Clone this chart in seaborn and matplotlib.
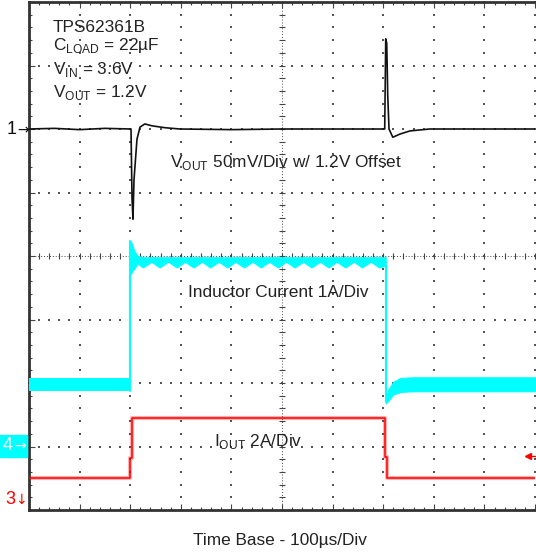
import numpy as np
import pandas as pd
import seaborn as sns
import matplotlib.pyplot as plt
from matplotlib.patches import Rectangle

sns.set_style("white")
plt.rcParams['font.family'] = ['Liberation Sans', 'DejaVu Sans']
plt.rcParams['mathtext.fontset'] = 'custom'
plt.rcParams['mathtext.rm'] = 'Liberation Sans'

# scope traces, x in divisions (100us/div), y in divisions from screen centre
# CH1 - Vout (black)
vout_t = [0, 0.5, 1.0, 1.5, 2.0, 2.016, 2.036, 2.055, 2.075, 2.134, 2.194, 2.29, 2.43,
          2.69, 2.98, 4.0, 5.0, 6.0, 7.03, 7.05, 7.07, 7.09, 7.115, 7.19, 7.33, 7.53,
          7.92, 9.0, 10.0]
vout_y = [2.0, 2.01, 1.99, 2.01, 2.0, 2.0, 0.9, 0.58, 1.2, 1.84, 2.03, 2.08, 2.05,
          2.02, 2.0, 1.99, 2.0, 2.0, 2.0, 3.42, 3.35, 2.52, 2.0, 1.87, 1.92, 1.97,
          2.0, 2.0, 2.0]

# CH4 - inductor current (cyan band: top / bottom envelope)
il_lo1_t = [0, 2.0]
il_lo1_top = [-1.92, -1.92]
il_lo1_bot = [-2.13, -2.13]
il_edge_y = [-2.13, 0.24]
il_hi_t = [2.0, 2.03, 2.08, 2.15, 2.25, 2.42, 2.58, 2.75, 2.92, 3.08, 3.25, 3.42, 3.58,
           3.75, 3.92, 4.08, 4.25, 4.42, 4.58, 4.75, 4.92, 5.08, 5.25, 5.42, 5.58, 5.75,
           5.92, 6.08, 6.25, 6.42, 6.58, 6.75, 6.92, 7.05]
il_hi_top = [0.24, 0.2, 0.08, 0.0, -0.02, -0.02, -0.02, -0.02, -0.02, -0.02, -0.02,
             -0.02, -0.02, -0.02, -0.02, -0.02, -0.02, -0.02, -0.02, -0.02, -0.02,
             -0.02, -0.02, -0.02, -0.02, -0.02, -0.02, -0.02, -0.02, -0.02, -0.02,
             -0.02, -0.02, -0.02]
il_hi_bot = [-0.3, -0.25, -0.2, -0.12, -0.18, -0.09, -0.18, -0.09, -0.18, -0.09, -0.18,
             -0.09, -0.18, -0.09, -0.18, -0.09, -0.18, -0.09, -0.18, -0.09, -0.18,
             -0.09, -0.18, -0.09, -0.18, -0.09, -0.18, -0.09, -0.18, -0.09, -0.18,
             -0.09, -0.18, -0.15]
il_fall_y = [-0.15, -2.3]
il_lo2_t = [7.055, 7.1, 7.2, 7.35, 7.6, 10.0]
il_lo2_top = [-2.25, -2.1, -1.98, -1.92, -1.91, -1.91]
il_lo2_bot = [-2.32, -2.28, -2.18, -2.14, -2.13, -2.13]

# CH3 - Iout (red)
iout_t = [0, 1.996, 1.996, 2.035, 2.035, 7.03, 7.03, 7.08, 7.08, 10.0]
iout_y = [-3.5, -3.5, -3.18, -3.18, -2.55, -2.55, -3.17, -3.17, -3.5, -3.5]

trig_level = -3.15

fig = plt.figure(figsize=(5.36, 5.56), dpi=100)
ax = fig.add_axes([29 / 536, 1 - 510 / 556, 506 / 536, 508 / 556])
ax.set_xlim(0, 10)
ax.set_ylim(-4, 4)

# graticule dots
dot = dict(color='#555555', s=1.3, marker='s', linewidths=0, clip_on=False, zorder=1)
yy = np.arange(-4, 4.01, 0.2)
xx = np.arange(0, 10.01, 0.2)
for gx in [1, 2, 3, 4, 6, 7, 8, 9, 10]:
    ax.scatter(np.full_like(yy, gx), yy, **dot)
for gy in [-3, -2, -1, 1, 2, 3]:
    ax.scatter(xx, np.full_like(xx, gy), **dot)
# centre crosshair
ax.axhline(0, color='#444444', lw=0.7, ls=(0, (1, 2)), zorder=1)
ax.axvline(5, color='#444444', lw=0.7, ls=(0, (1, 2)), zorder=1)
ax.plot(xx, np.zeros_like(xx), ls='none', marker='|', ms=4, mew=0.8, color='#444444', zorder=1)
ax.plot(np.full_like(yy, 5), yy, ls='none', marker='_', ms=4, mew=0.8, color='#444444', zorder=1)

# CH4 cyan
cyan = '#00FFFF'
ax.fill_between(il_lo1_t, il_lo1_bot, il_lo1_top, color=cyan, lw=0, zorder=3)
ax.fill_between(il_hi_t, il_hi_bot, il_hi_top, color=cyan, lw=0.8, edgecolor=cyan, zorder=3)
ax.fill_between(il_lo2_t, il_lo2_bot, il_lo2_top, color=cyan, lw=0.8, edgecolor=cyan, zorder=3)
ax.plot([2.0, 2.0], il_edge_y, color=cyan, lw=1.5, zorder=3)
ax.plot([7.055, 7.055], il_fall_y, color=cyan, lw=1.5, zorder=3)

# CH3 red
iout = pd.DataFrame({'t': iout_t, 'y': iout_y})
sns.lineplot(data=iout, x='t', y='y', sort=False, estimator=None, ax=ax,
             color='#FF0000', lw=3, alpha=0.3, zorder=4)
sns.lineplot(data=iout, x='t', y='y', sort=False, estimator=None, ax=ax,
             color='#FF0000', lw=1.1, zorder=4)
ax.plot([9.86, 10.1], [trig_level, trig_level], color='#FF0000', lw=1, clip_on=False, zorder=4)
ax.plot([9.86], [trig_level], marker='<', ms=5, color='#FF0000', zorder=4)

# CH1 black
vout = pd.DataFrame({'t': vout_t, 'y': vout_y})
sns.lineplot(data=vout, x='t', y='y', sort=False, estimator=None, ax=ax,
             color='#111111', lw=1.2, zorder=5)

# frame + edge ticks
for side in ['left', 'top', 'bottom']:
    ax.spines[side].set_linewidth(2)
    ax.spines[side].set_color('#333333')
ax.spines['right'].set_visible(False)
ax.set_xticks(np.arange(0, 10.01, 1))
ax.set_xticks(xx, minor=True)
ax.set_yticks(np.arange(-4, 4.01, 1))
ax.set_yticks(yy, minor=True)
ax.tick_params(which='both', direction='in', top=True, right=False, left=True,
               bottom=True, labelbottom=False, labelleft=False, color='#444444',
               width=0.8)
ax.tick_params(which='major', length=4)
ax.tick_params(which='minor', length=2.5)
ax.set_xlabel('')
ax.set_ylabel('')

fs = 12.4
tc = '#222222'
ax.text(0.47, 3.53, 'TPS62361B', fontsize=fs, color=tc)
ax.text(0.47, 3.24, r'C$_{\mathregular{LOAD}}$ = 22µF', fontsize=fs, color=tc)
ax.text(0.47, 2.87, r'V$_{\mathregular{IN}}$ = 3.6V', fontsize=fs, color=tc)
ax.text(0.47, 2.50, r'V$_{\mathregular{OUT}}$ = 1.2V', fontsize=fs, color=tc)
ax.text(2.79, 1.40, r'V$_{\mathregular{OUT}}$ 50mV/Div w/ 1.2V Offset', fontsize=fs, color=tc)
ax.text(3.14, -0.646, 'Inductor Current 1A/Div', fontsize=fs, color=tc)
ax.text(3.66, -2.99, r'I$_{\mathregular{OUT}}$ 2A/Div', fontsize=fs, color=tc)

# channel markers outside the screen
arrow_font = ['DejaVu Sans']
fig.text(12 / 536, 1 - 130 / 556, '1', fontsize=13, color='#111111', ha='center', va='center')
fig.text(23 / 536, 1 - 130 / 556, '→', fontsize=10, color='#111111', ha='center',
         va='center', family=arrow_font)
fig.patches.append(Rectangle((0, 1 - 457 / 556), 27 / 536, 22 / 556,
                             transform=fig.transFigure, color=cyan, zorder=0))
fig.text(8 / 536, 1 - 446 / 556, '4', fontsize=13, color='white', ha='center', va='center')
fig.text(20 / 536, 1 - 446 / 556, '→', fontsize=10, color='white', ha='center',
         va='center', family=arrow_font)
fig.text(10 / 536, 1 - 500 / 556, '3', fontsize=13, color='#FF0000', ha='center', va='center')
fig.text(21 / 536, 1 - 500 / 556, '↓', fontsize=10, color='#FF0000', ha='center',
         va='center', family=arrow_font)

fig.text(280 / 536, 1 - 540 / 556, 'Time Base - 100µs/Div', fontsize=fs, color=tc,
         ha='center', va='center')

fig.savefig('out.png', dpi=100)
